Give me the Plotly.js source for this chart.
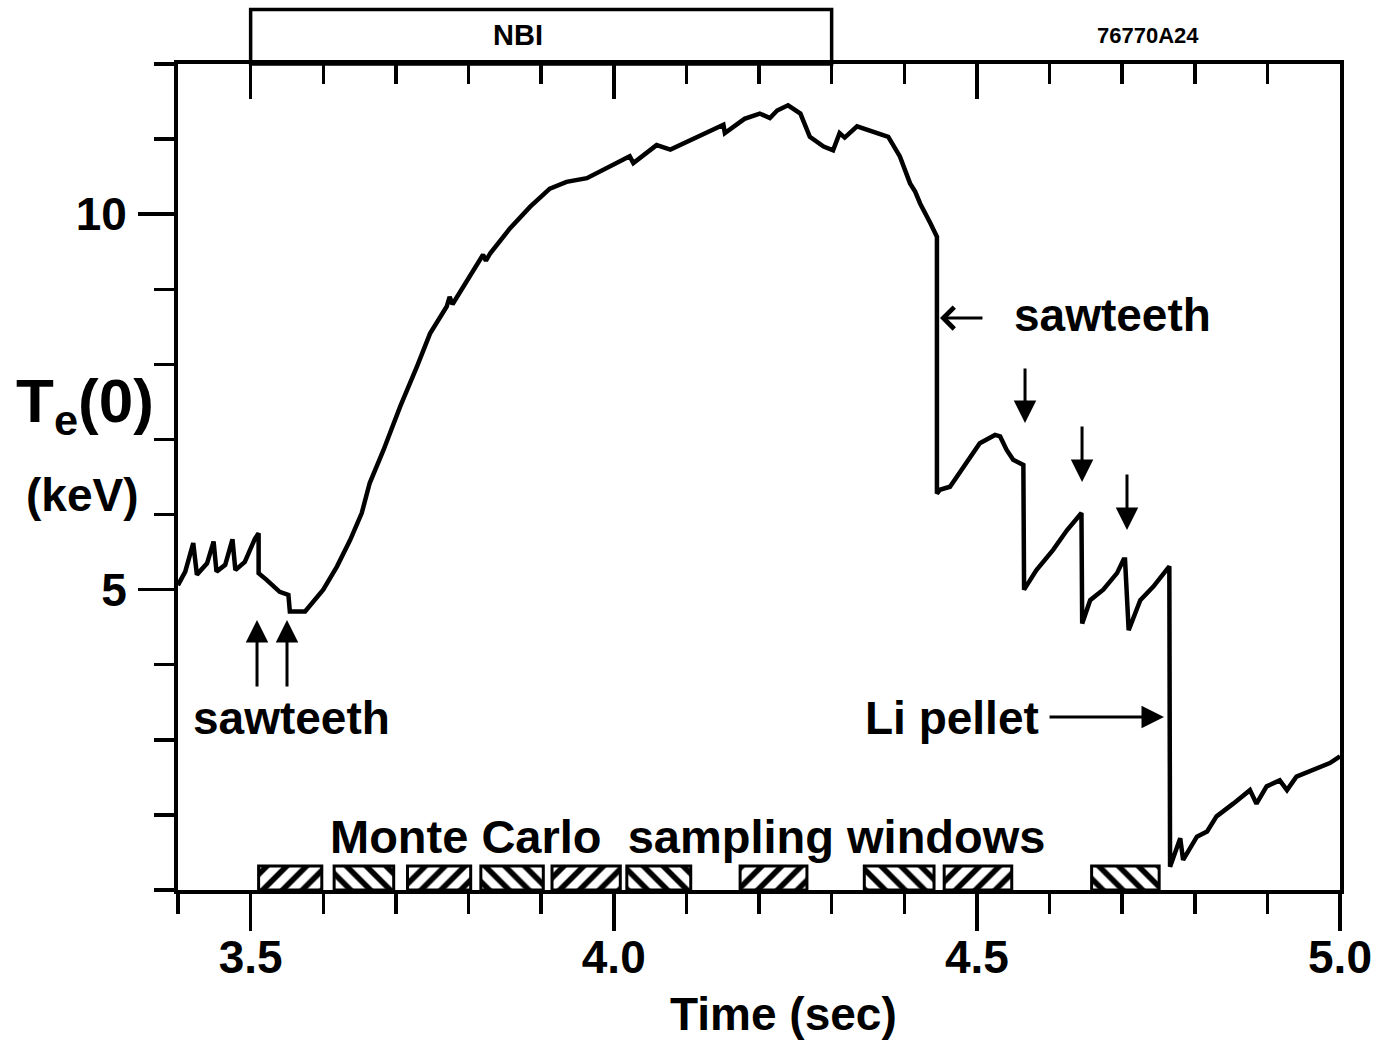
<!DOCTYPE html>
<html><head><meta charset="utf-8">
<script src="https://cdn.plot.ly/plotly-3.0.1.min.js"></script>
<style>html,body{margin:0;padding:0;background:#fff}#chart{width:1383px;height:1044px}</style>
</head><body><div id="chart"></div>
<script>
// Central electron temperature Te(0) vs time
const timeSec = [3.400,3.410,3.421,3.426,3.440,3.449,3.453,3.465,3.475,3.479,3.492,3.506,3.511,3.511,3.522,3.540,3.552,3.554,3.575,3.600,3.619,3.637,3.653,3.664,3.683,3.706,3.729,3.747,3.770,3.774,3.778,3.798,3.820,3.824,3.830,3.857,3.885,3.912,3.935,3.963,3.986,4.022,4.027,4.059,4.078,4.096,4.120,4.151,4.153,4.180,4.201,4.215,4.225,4.240,4.257,4.270,4.289,4.302,4.311,4.318,4.335,4.357,4.378,4.394,4.408,4.415,4.422,4.436,4.445,4.445,4.449,4.463,4.472,4.481,4.504,4.525,4.532,4.541,4.550,4.564,4.565,4.582,4.605,4.624,4.644,4.645,4.656,4.674,4.693,4.702,4.704,4.709,4.725,4.743,4.761,4.765,4.766,4.775,4.780,4.784,4.803,4.817,4.830,4.853,4.876,4.885,4.899,4.917,4.927,4.940,4.963,4.986,5.000];
const teKeV = [5.06,5.24,5.62,5.20,5.35,5.64,5.24,5.33,5.67,5.26,5.37,5.68,5.75,5.22,5.13,4.97,4.93,4.71,4.71,5.00,5.31,5.66,6.02,6.42,6.86,7.44,7.97,8.41,8.77,8.90,8.80,9.12,9.46,9.38,9.48,9.81,10.10,10.34,10.43,10.48,10.59,10.77,10.68,10.92,10.86,10.94,11.04,11.19,11.08,11.27,11.34,11.28,11.38,11.45,11.34,11.03,10.90,10.85,11.08,11.02,11.17,11.10,11.03,10.77,10.41,10.30,10.14,9.88,9.70,6.28,6.33,6.37,6.50,6.64,6.95,7.06,7.04,6.86,6.73,6.66,5.00,5.26,5.53,5.79,6.02,4.55,4.86,5.00,5.22,5.40,5.40,4.46,4.86,5.04,5.28,5.31,1.31,1.58,1.69,1.40,1.71,1.78,1.98,2.15,2.33,2.15,2.38,2.46,2.33,2.51,2.60,2.69,2.78];

// Monte Carlo sampling windows (sec)
const windowStart = [3.511,3.615,3.716,3.817,3.915,4.018,4.174,4.345,4.455,4.658];
const windowEnd   = [3.598,3.697,3.803,3.903,4.009,4.106,4.266,4.441,4.548,4.751];
const windowHatch = ['/','\\','/','\\','/','\\','/','\\','/','\\'];
const windowHeight = 0.32;

// NBI heating interval (sec)
const nbiStart = 3.5, nbiEnd = 4.3;

const xRange = [3.4, 5.0];
const yRange = [1, 12];
const xTickVals = [3.5, 4.0, 4.5, 5.0];
const xTickText = ['3.5', '4.0', '4.5', '5.0'];
const yTickVals = [5, 10];
const yTickText = ['5', '10'];

const FONT = 'Liberation Sans, Arial, Helvetica, sans-serif';
const big = {family: FONT, size: 46, color: 'black', weight: 'bold'};

const curve = {
  type: 'scatter', mode: 'lines', x: timeSec, y: teKeV,
  line: {color: 'black', width: 4.5}, hoverinfo: 'skip', xaxis: 'x', yaxis: 'y'
};

const winCenter = windowStart.map((s, i) => (s + windowEnd[i]) / 2);
const winWidth = windowStart.map((s, i) => windowEnd[i] - s);
const windows = {
  type: 'bar', x: winCenter, width: winWidth,
  y: windowStart.map(() => windowHeight), base: yRange[0],
  marker: {color: 'white', line: {color: 'black', width: 3},
    pattern: {shape: windowHatch, fgcolor: 'black', bgcolor: 'white', size: 14, solidity: 0.4}},
  hoverinfo: 'skip', xaxis: 'x2', yaxis: 'y'
};

function arrow(x, y, ax, ay, head, size) {
  return {x: x, y: y, xref: 'x', yref: 'y', ax: ax, ay: ay, text: '', showarrow: true,
    arrowhead: head, arrowsize: size, arrowwidth: 3, arrowcolor: 'black', standoff: 0, startstandoff: 0};
}
function label(text, x, y, font, xref, yref) {
  return {text: text, x: x, y: y, xref: xref || 'x', yref: yref || 'y', showarrow: false,
    xanchor: 'center', yanchor: 'middle', font: font};
}

const layout = {
  width: 1383, height: 1044,
  margin: {l: 178, r: 43, t: 64, b: 154},
  paper_bgcolor: 'white', plot_bgcolor: 'white',
  showlegend: false, bargap: 0,
  font: {family: FONT, color: 'black'},
  xaxis: {
    range: xRange, showgrid: false, zeroline: false,
    showline: true, linecolor: 'black', linewidth: 4,
    tickmode: 'array', tickvals: xTickVals, ticktext: xTickText,
    ticks: 'outside', ticklen: 37, tickwidth: 3.5, tickcolor: 'black',
    ticklabelstandoff: -13,
    tickfont: big,
    minor: {tickmode: 'linear', tick0: 3.4, dtick: 0.1, ticks: 'outside', ticklen: 20, tickwidth: 3.5, tickcolor: 'black', showgrid: false}
  },
  xaxis2: {
    overlaying: 'x', side: 'top', anchor: 'y', matches: 'x', range: xRange,
    showgrid: false, zeroline: false,
    showline: true, linecolor: 'black', linewidth: 4,
    tickmode: 'array', tickvals: xTickVals, showticklabels: false,
    ticks: 'inside', ticklen: 35, tickwidth: 3.5, tickcolor: 'black',
    minor: {tickmode: 'linear', tick0: 3.4, dtick: 0.1, ticks: 'inside', ticklen: 20, tickwidth: 3.5, tickcolor: 'black', showgrid: false}
  },
  yaxis: {
    range: yRange, showgrid: false, zeroline: false,
    showline: true, linecolor: 'black', linewidth: 4, mirror: true,
    tickmode: 'array', tickvals: yTickVals, ticktext: yTickText,
    ticks: 'outside', ticklen: 36, tickwidth: 3.5, tickcolor: 'black',
    ticklabelstandoff: 2,
    tickfont: big,
    minor: {tickmode: 'linear', tick0: 0, dtick: 1, ticks: 'outside', ticklen: 20, tickwidth: 3.5, tickcolor: 'black', showgrid: false}
  },
  shapes: [
    {type: 'rect', xref: 'x', yref: 'paper', x0: nbiStart, x1: nbiEnd, y0: 1, y1: 1.066,
     line: {color: 'black', width: 3.5}, fillcolor: 'rgba(0,0,0,0)'}
  ],
  annotations: [
    label('NBI', 3.868, 1.035, {family: FONT, size: 29, color: 'black', weight: 'bold'}, 'x', 'paper'),
    label('76770A24', 0.8348, 1.035, {family: FONT, size: 22, color: 'black', weight: 'bold'}, 'paper', 'paper'),
    label('T<sub>e</sub>(0)', -0.080, 0.587, {family: FONT, size: 62, color: 'black', weight: 'bold'}, 'paper', 'paper'),
    label('(keV)', -0.0826, 0.478, {family: FONT, size: 46, color: 'black', weight: 'bold'}, 'paper', 'paper'),
    label('Time (sec)', 0.5207, -0.150, {family: FONT, size: 46, color: 'black', weight: 'bold'}, 'paper', 'paper'),
    label('sawteeth', 3.5556, 3.29, big),
    label('sawteeth', 4.6874, 8.657, big),
    label('Li pellet', 4.4658, 3.29, big),
    label('Monte Carlo  sampling windows', 4.1022, 1.719, {family: FONT, size: 47, color: 'black', weight: 'bold'}),
    arrow(3.5088, 4.596, 0, 68, 2, 1.5),
    arrow(3.5501, 4.596, 0, 68, 2, 1.5),
    arrow(4.4492, 8.617, 44, 0, 4, 1.4),
    arrow(4.5663, 7.219, 0, -56, 2, 1.5),
    arrow(4.6448, 6.433, 0, -57, 2, 1.5),
    arrow(4.7067, 5.794, 0, -57, 2, 1.5),
    arrow(4.7577, 3.304, -116, 0, 2, 1.5)
  ]
};

Plotly.newPlot('chart', [windows, curve], layout, {displayModeBar: false, staticPlot: true});
</script>
</body></html>
